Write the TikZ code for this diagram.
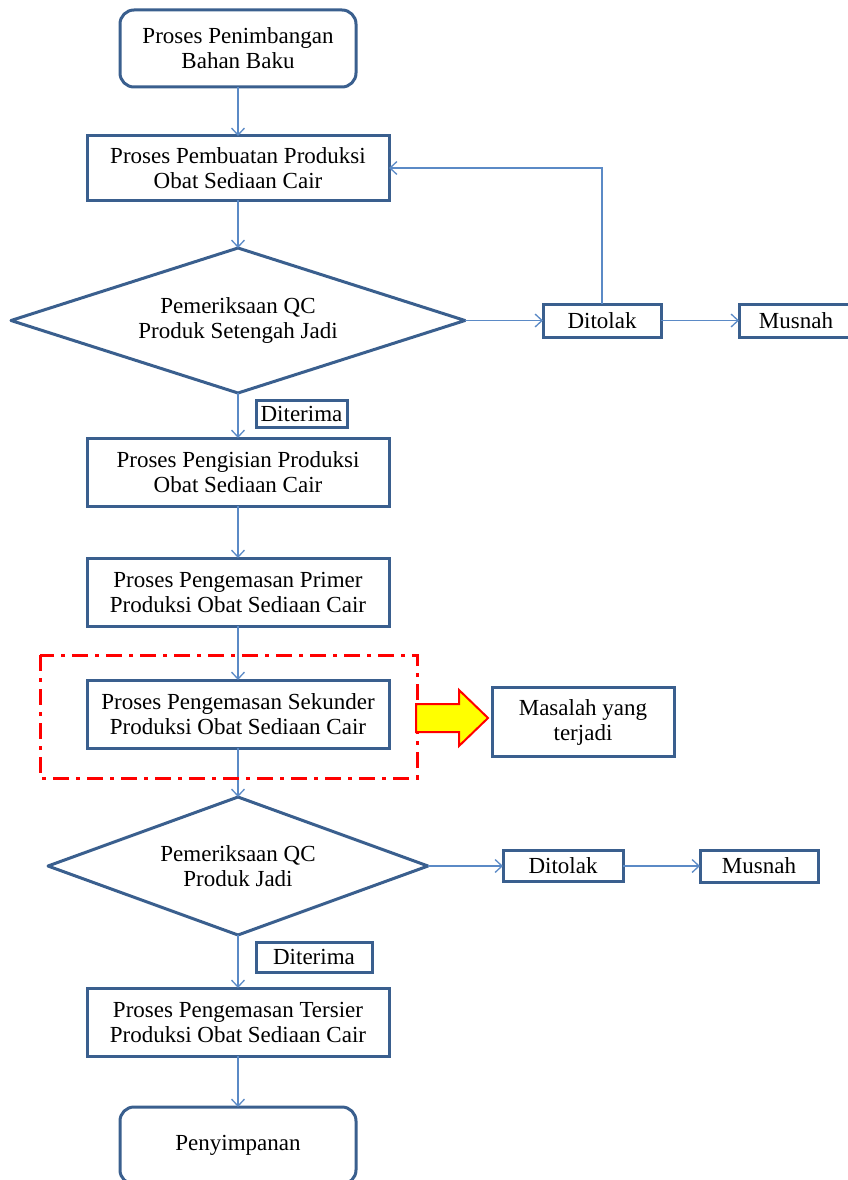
\documentclass[tikz,border=0pt]{standalone}
\usepackage{fontspec}
\setmainfont{Liberation Serif}
\usepackage{tikz}
\usetikzlibrary{positioning,arrows.meta,shapes.geometric}
\usepackage{xcolor}
\definecolor{boxblue}{HTML}{3A5F8E}
\definecolor{lineblue}{HTML}{5B8AC6}
\definecolor{warnred}{HTML}{FF0000}
\definecolor{warnyellow}{HTML}{FFFF00}

\tikzset{
  base/.style={draw=boxblue,line width=3pt,outer sep=0pt,font=\fontsize{23}{25}\selectfont,align=center,inner sep=0pt},
  terminal/.style={base,rounded corners=14pt,minimum width=236pt,minimum height=77pt},
  process/.style={base,minimum width=302pt,minimum height=68pt},
  decision/.style={base,diamond,line join=round,aspect=3},
  tag/.style={base,minimum height=31pt},
  flow/.style={draw=lineblue,line width=1.3pt,-{Straight Barb[length=7pt,width=13pt]}},
}

\begin{document}
\begin{tikzpicture}[x=1pt,y=1pt]
\useasboundingbox (0,0) rectangle (847,-1180);
% main column
\node (start) [terminal] at (238,-48.5) {Proses Penimbangan\\Bahan Baku};
\node (buat) [process,minimum height=64pt,below=49pt of start] {Proses Pembuatan Produksi\\Obat Sediaan Cair};
\node (qc1) [decision,minimum width=454pt,minimum height=145pt,below=48pt of buat] {Pemeriksaan QC\\Produk Setengah Jadi};
\node (isi) [process,below=45pt of qc1] {Proses Pengisian Produksi\\Obat Sediaan Cair};
\node (primer) [process,below=52pt of isi] {Proses Pengemasan Primer\\Produksi Obat Sediaan Cair};
\node (sekunder) [process,below=54pt of primer] {Proses Pengemasan Sekunder\\Produksi Obat Sediaan Cair};
\node (qc2) [decision,minimum width=380pt,minimum height=138pt,below=49pt of sekunder] {Pemeriksaan QC\\Produk Jadi};
\node (tersier) [process,below=53pt of qc2] {Proses Pengemasan Tersier\\Produksi Obat Sediaan Cair};
\node (simpan) [terminal,below=51pt of tersier] {Penyimpanan};
% side branches
\node (tol1) [tag,minimum width=118pt,minimum height=33pt,right=78pt of qc1] {Ditolak};
\node (mus1) [tag,minimum width=114pt,minimum height=33pt,right=78pt of tol1] {Musnah};
\node (dit1) [tag,minimum width=91pt,minimum height=27pt,below right=7pt and 18pt of qc1.south] {Diterima};
\node (tol2) [tag,minimum width=120pt,right=75pt of qc2] {Ditolak};
\node (mus2) [tag,minimum width=118pt,minimum height=32pt,right=77pt of tol2] {Musnah};
\node (dit2) [tag,minimum width=116pt,minimum height=30pt,below right=7pt and 18pt of qc2.south] {Diterima};
\node (masalah) [base,minimum width=182pt,minimum height=69pt,right=103pt of sekunder,yshift=-8pt] {Masalah yang\\terjadi};

\draw[flow] (start.south) -- (buat.north);
\draw[flow] (buat.south) -- (qc1.north);
\draw[flow] (qc1.south) -- (isi.north);
\draw[flow] (isi.south) -- (primer.north);
\draw[flow] (primer.south) -- (sekunder.north);
\draw[flow] (sekunder.south) -- (qc2.north);
\draw[flow] (qc2.south) -- (tersier.north);
\draw[flow] (tersier.south) -- (simpan.north);
\draw[flow] (qc1.east) -- (tol1.west);
\draw[flow] (tol1.east) -- (mus1.west);
\draw[flow] (tol1.north) |- (buat.east);
\draw[flow] (qc2.east) -- (tol2.west);
\draw[flow] (tol2.east) -- (mus2.west);

% highlighted problem area
\draw[warnred,line width=3pt,dash pattern=on 16pt off 7pt on 4pt off 7pt]
  ([shift={(-47pt,25pt)}]sekunder.north west) rectangle ([shift={(28pt,-30pt)}]sekunder.south east);
\draw[draw=warnred,fill=warnyellow,line width=2pt]
  ([shift={(27pt,10pt)}]sekunder.east) -- ++(43,0) -- ++(0,14) -- ++(29,-28) -- ++(-29,-28) -- ++(0,14) -- ++(-43,0) -- cycle;
\end{tikzpicture}
\end{document}
